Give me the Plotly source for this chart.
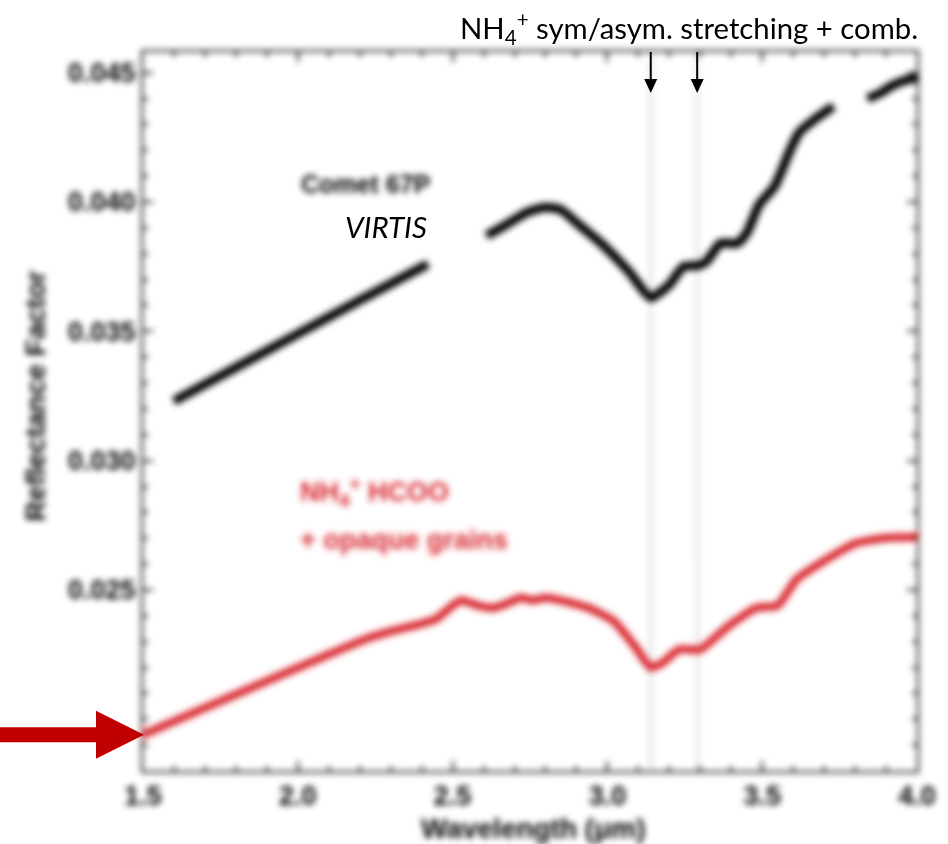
import plotly.graph_objects as go

# Comet 67P / VIRTIS reflectance spectrum (three segments, gaps between them)
virtis_wl_a = [1.60, 1.80, 2.00, 2.20, 2.42]
virtis_rf_a = [0.0323, 0.0336, 0.0349, 0.0362, 0.0376]

virtis_wl_b = [2.61, 2.67, 2.74, 2.80, 2.85, 2.91, 2.98, 3.07, 3.14, 3.20, 3.245,
               3.295, 3.32, 3.365, 3.42, 3.45, 3.49, 3.54, 3.59, 3.62, 3.67, 3.73]
virtis_rf_b = [0.0387, 0.0391, 0.0396, 0.0398, 0.0397, 0.0391, 0.0384, 0.0373, 0.0363,
               0.0368, 0.0375, 0.03755, 0.0377, 0.0384, 0.0384, 0.0388, 0.0399, 0.0406,
               0.0420, 0.0427, 0.0432, 0.0437]

virtis_wl_c = [3.84, 3.88, 3.92, 3.96, 4.00]
virtis_rf_c = [0.0440, 0.0442, 0.0445, 0.0447, 0.0448]

# Laboratory mixture: NH4+ HCOO- + opaque grains
lab_wl = [1.50, 2.23, 2.30, 2.40, 2.45, 2.50, 2.53, 2.58, 2.63, 2.68, 2.72, 2.76, 2.80,
          2.85, 2.94, 3.02, 3.09, 3.14, 3.18, 3.23, 3.30, 3.39, 3.48, 3.55, 3.61, 3.71,
          3.80, 3.89, 4.00]
lab_rf = [0.0194, 0.02315, 0.0234, 0.0237, 0.0239, 0.0244, 0.0246, 0.0244, 0.0243, 0.0245,
          0.0247, 0.0246, 0.0247, 0.0246, 0.0243, 0.0238, 0.0228, 0.0220, 0.0222, 0.0227,
          0.0227, 0.0236, 0.0243, 0.0244, 0.0254, 0.0262, 0.0268, 0.0270, 0.02705]

# NH4+ band positions
band_wl = [3.14, 3.29]

x_ticks = [1.5, 2.0, 2.5, 3.0, 3.5, 4.0]
x_ticktext = ["1.5", "2.0", "2.5", "3.0", "3.5", "4.0"]
y_ticks = [0.025, 0.030, 0.035, 0.040, 0.045]
y_ticktext = ["0.025", "0.030", "0.035", "0.040", "0.045"]

BLACK = "#000000"
RED = "#d8262e"
ARROW_RED = "#c00000"

fig = go.Figure()

virtis_wl = virtis_wl_a + [None] + virtis_wl_b + [None] + virtis_wl_c
virtis_rf = virtis_rf_a + [None] + virtis_rf_b + [None] + virtis_rf_c

fig.add_trace(go.Scatter(x=virtis_wl, y=virtis_rf, mode="lines", connectgaps=False,
                         line=dict(color=BLACK, width=9, shape="spline", smoothing=0.5),
                         name="Comet 67P VIRTIS"))
fig.add_trace(go.Scatter(x=lab_wl, y=lab_rf, mode="lines",
                         line=dict(color=RED, width=8, shape="spline", smoothing=0.5),
                         name="NH4+ HCOO- + opaque grains"))

# faint guide lines at the band centres
for wl in band_wl:
    fig.add_shape(type="line", xref="x", yref="paper", x0=wl, x1=wl, y0=0, y1=1,
                  line=dict(color="#999999", width=1), layer="below")

# downward arrows marking the bands (pixel-sized, hanging from the top frame)
for wl in band_wl:
    fig.add_shape(type="path", xref="x", yref="paper", xsizemode="pixel", ysizemode="pixel",
                  xanchor=wl, yanchor=1,
                  path="M-1,0 L1,0 L1,-27 L6.5,-27 L0,-41 L-6.5,-27 L-1,-27 Z",
                  fillcolor="black", line=dict(width=0), layer="above")

# red pointer at the start of the laboratory spectrum
fig.add_shape(type="path", xref="paper", yref="y", xsizemode="pixel", ysizemode="pixel",
              xanchor=0, yanchor=lab_rf[0],
              path="M-145,7.5 L-47,7.5 L-47,24 L1,0 L-47,-24 L-47,-7.5 L-145,-7.5 Z",
              fillcolor=ARROW_RED, line=dict(width=0), layer="above")

axis_common = dict(ticks="inside", ticklen=10, tickwidth=2, tickcolor="black",
                   showline=True, linecolor="black", linewidth=2, mirror="ticks",
                   showgrid=False, zeroline=False,
                   tickfont=dict(family="Liberation Sans, Arial, sans-serif", size=27,
                                 color="black", weight="bold"))

fig.update_xaxes(range=[1.5, 4.0], tickmode="array", tickvals=x_ticks, ticktext=x_ticktext,
                 minor=dict(tickmode="linear", tick0=1.5, dtick=0.1, ticks="inside",
                            ticklen=5, tickwidth=2, tickcolor="black", showgrid=False),
                 **axis_common)
fig.update_yaxes(range=[0.0180, 0.0458], tickmode="array", tickvals=y_ticks, ticktext=y_ticktext,
                 minor=dict(tickmode="linear", tick0=0.0, dtick=0.001, ticks="inside",
                            ticklen=5, tickwidth=2, tickcolor="black", showgrid=False),
                 **axis_common)

soft_family = "Liberation Sans, Arial, sans-serif"
sharp_family = "Lato, Open Sans, sans-serif"

annotations = [
    # softened labels (indices 0-4)
    dict(text="<b>Comet 67P</b>", x=2.219, y=0.04068, xref="x", yref="y", showarrow=False,
         font=dict(family=soft_family, size=25, color="black"), xanchor="center", yanchor="middle"),
    dict(text="<b>NH<sub>4</sub><sup>+</sup> HCOO</b>", x=2.0, y=0.02878, xref="x", yref="y",
         showarrow=False, font=dict(family=soft_family, size=27, color=RED),
         xanchor="left", yanchor="middle"),
    dict(text="<b>+ opaque grains</b>", x=2.0, y=0.02693, xref="x", yref="y", showarrow=False,
         font=dict(family=soft_family, size=27, color=RED), xanchor="left", yanchor="middle"),
    dict(text="<b>Reflectance Factor</b>", x=-0.138, y=0.5216, xref="paper", yref="paper",
         showarrow=False, textangle=-90, font=dict(family=soft_family, size=28, color="black"),
         xanchor="center", yanchor="middle"),
    dict(text="<b>Wavelength (\u03bcm)</b>", x=0.504, y=-0.0793, xref="paper", yref="paper",
         showarrow=False, font=dict(family=soft_family, size=28, color="black"),
         xanchor="center", yanchor="middle"),
    # crisp overlay labels
    dict(text="<i>VIRTIS</i>", x=2.285, y=0.03905, xref="x", yref="y", showarrow=False,
         font=dict(family=sharp_family, size=29.5, color="black"), xanchor="center", yanchor="middle"),
    dict(text="NH<sub>4</sub><sup>+</sup> sym/asym. stretching + comb.", x=0.706, y=1.033,
         xref="paper", yref="paper", showarrow=False,
         font=dict(family=sharp_family, size=29.3, color="black"), xanchor="center", yanchor="middle"),
]

fig.update_layout(width=948, height=844, margin=dict(l=143, r=23, t=52, b=73),
                  paper_bgcolor="white", plot_bgcolor="white", showlegend=False,
                  annotations=annotations)

# Gaussian softening applied to the plotted figure and its own labels
soften_js = """
var gd = document.getElementById('{plot_id}');
var ns = 'http://www.w3.org/2000/svg';
var svg = gd.querySelector('svg.main-svg');
var defs = svg.querySelector('defs');
if (!defs) { defs = document.createElementNS(ns, 'defs'); svg.insertBefore(defs, svg.firstChild); }
var f = document.createElementNS(ns, 'filter');
f.setAttribute('id', 'soften');
f.setAttribute('filterUnits', 'userSpaceOnUse');
f.setAttribute('x', '-2000'); f.setAttribute('y', '-2000');
f.setAttribute('width', '6000'); f.setAttribute('height', '6000');
var b = document.createElementNS(ns, 'feGaussianBlur');
b.setAttribute('stdDeviation', '3.2');
f.appendChild(b);
defs.appendChild(f);
var sel = ['.cartesianlayer', '.layer-below'];
for (var i = 0; i < 5; i++) { sel.push('.annotation[data-index="' + i + '"]'); }
gd.querySelectorAll(sel.join(',')).forEach(function (el) { el.setAttribute('filter', 'url(#soften)'); });
"""

fig.write_html("out.html", post_script=soften_js)
